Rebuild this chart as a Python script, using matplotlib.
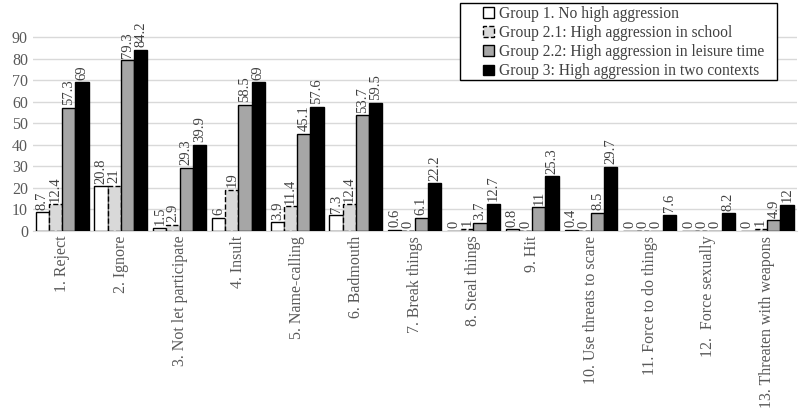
import numpy as np
import matplotlib.pyplot as plt
from matplotlib.patches import Rectangle

# behaviour categories
categories = ['1. Reject', '2. Ignore', '3. Not let participate', '4. Insult',
              '5. Name-calling', '6. Badmouth', '7. Break things', '8. Steal things',
              '9. Hit', '10. Use threats to scare', '11. Force to do things',
              '12.  Force sexually', '13. Threaten with weapons']

# percentages per group
group1 = [8.7, 20.8, 1.5, 6, 3.9, 7.3, 0.6, 0, 0.8, 0.4, 0, 0, 0]
group21 = [12.4, 21, 2.9, 19, 11.4, 12.4, 0, 1, 0, 0, 0, 0, 1]
group22 = [57.3, 79.3, 29.3, 58.5, 45.1, 53.7, 6.1, 3.7, 11, 8.5, 0, 0, 4.9]
group3 = [69, 84.2, 39.9, 69, 57.6, 59.5, 22.2, 12.7, 25.3, 29.7, 7.6, 8.2, 12]

labels = ['Group 1. No high aggression',
          'Group 2.1: High aggression in school',
          'Group 2.2: High aggression in leisure time',
          'Group 3: High aggression in two contexts']

plt.rcParams['font.family'] = ['Liberation Serif', 'DejaVu Serif']

W, H = 799, 413
fig = plt.figure(figsize=(W / 100, H / 100), dpi=100)
ax = fig.add_axes([0.041, 0.441, 0.956, 0.495])

x = np.arange(len(categories))
w = 0.225
styles = [
    dict(facecolor='white', edgecolor='black', linestyle='-'),
    dict(facecolor='#d9d9d9', edgecolor='black', linestyle='--'),
    dict(facecolor='#a6a6a6', edgecolor='black', linestyle='-'),
    dict(facecolor='black', edgecolor='black', linestyle='-'),
]
series = [group1, group21, group22, group3]
for i, (vals, st, lab) in enumerate(zip(series, styles, labels)):
    pos = x + (i - 1.5) * w
    ax.bar(pos, vals, width=w, linewidth=1.0, label=lab, zorder=3, **st)
    for p, v in zip(pos, vals):
        ax.text(p, v + 1.2, '{0:g}'.format(v), rotation=90, ha='center', va='bottom',
                fontsize=10.5, color='#404040')

ax.set_xlim(-0.5, len(categories) - 0.5)
ax.set_ylim(0, 95)
ax.set_yticks(range(0, 100, 10))
ax.yaxis.grid(True, color='#d9d9d9', linewidth=1)
ax.set_axisbelow(True)
for s in ['top', 'right', 'left']:
    ax.spines[s].set_visible(False)
ax.spines['bottom'].set_color('#d9d9d9')
ax.tick_params(axis='both', length=0, labelsize=11.5, colors='#595959')
ax.set_xticks(x)
ax.set_xticklabels(categories, rotation=90, va='top')

# legend box drawn separately so the entries sit with extra left padding
fig.patches.append(Rectangle((460 / W, 1 - 80 / H), 317 / W, 77 / H, transform=fig.transFigure,
                             facecolor='white', edgecolor='black', linewidth=1.0, zorder=5))
leg = fig.legend(loc='upper left', bbox_to_anchor=(480 / W, 1 - 3 / H), fontsize=11.2,
                 frameon=False, handlelength=0.7, handleheight=0.7, handletextpad=0.3,
                 borderpad=0.2, labelspacing=0.2, borderaxespad=0)
leg.set_zorder(6)
for t in leg.get_texts():
    t.set_color('#404040')

fig.savefig('out.png', dpi=100)
